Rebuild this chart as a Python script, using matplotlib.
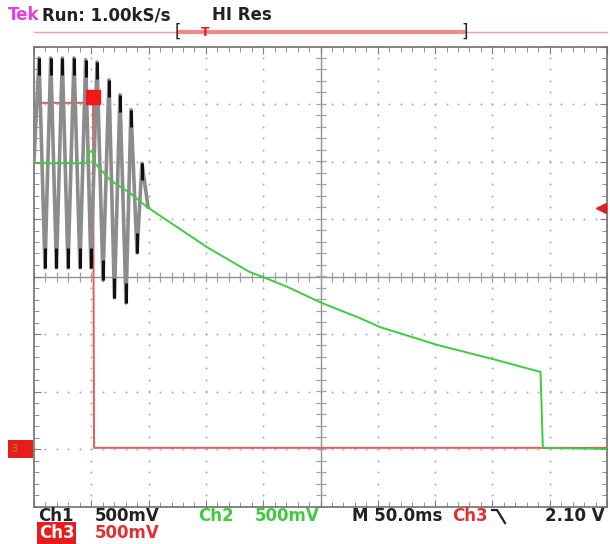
import numpy as np
import matplotlib.pyplot as plt
from matplotlib.ticker import MultipleLocator

# time in ms (50 ms/div, 10 div); vertical position in screen divisions
ch1_t = [0, 4.4, 9.6, 14.6, 19.6, 24.7, 29.7, 34.9, 40.1, 45.1, 49.7,
         55.0, 60.2, 65.4, 70.2, 75.0, 80.3, 84.6, 89.9, 94.2, 99.5]
ch1_v = [2.0, 3.80, 0.15, 3.80, 0.15, 3.80, 0.15, 3.80, 0.15, 3.77, 0.15,
         3.73, -0.06, 3.42, -0.37, 3.16, -0.46, 2.90, 0.41, 1.97, 1.21]

ch2_t = [0, 46.2, 47.1, 52.4, 53.2, 66.3, 83.8, 98.6, 151, 188, 200,
         221, 251, 284, 302, 352, 403, 442, 444, 500]
ch2_v = [1.97, 1.97, 2.17, 2.17, 1.97, 1.68, 1.45, 1.21, 0.51, 0.08, -0.01,
         -0.18, -0.46, -0.72, -0.88, -1.19, -1.45, -1.66, -2.98, -3.0]

ch3_t = [0, 51.5, 52.4, 500]
ch3_v = [3.02, 3.02, -2.98, -2.98]

ch3_ground = -3.0      # divisions
volts_per_div = 0.5
trig_level = 2.10      # V
trig_time = 51.5       # ms

W, H = 610, 544
fig = plt.figure(figsize=(W / 100, H / 100), dpi=100)
ax = fig.add_axes([34 / W, (H - 506.5) / H, (607 - 34) / W, 460 / H])
ax.set_xlim(0, 500)
ax.set_ylim(-4, 4)

# graticule
grid_c = '#b4b4b4'
for xv in np.arange(50, 500, 50):
    if xv == 250:
        continue
    yy = np.arange(-4, 4.01, 0.2)
    ax.plot(np.full_like(yy, xv), yy, ls='none', marker='o', ms=1.5,
            mfc=grid_c, mec='none', zorder=1)
for yv in np.arange(-3, 4, 1):
    if yv == 0:
        continue
    xx = np.arange(0, 500.1, 10)
    ax.plot(xx, np.full_like(xx, yv), ls='none', marker='o', ms=1.5,
            mfc=grid_c, mec='none', zorder=1)
ax.axhline(0, color='#909090', lw=1, zorder=1)
ax.axvline(250, color='#909090', lw=1, zorder=1)
xx = np.arange(0, 500.1, 10)
ax.plot(xx, np.zeros_like(xx), ls='none', marker='|', ms=7, mec='#a0a0a0', mew=0.9, zorder=1)
yy = np.arange(-4, 4.01, 0.2)
ax.plot(np.full_like(yy, 250), yy, ls='none', marker='_', ms=7, mec='#a0a0a0', mew=0.9, zorder=1)

for s in ax.spines.values():
    s.set_color('#707070')
    s.set_linewidth(1.2)
ax.xaxis.set_major_locator(MultipleLocator(50))
ax.xaxis.set_minor_locator(MultipleLocator(10))
ax.yaxis.set_major_locator(MultipleLocator(1))
ax.yaxis.set_minor_locator(MultipleLocator(0.2))
ax.tick_params(which='both', direction='in', top=True, right=True,
               labelbottom=False, labelleft=False, color='#808080')
ax.tick_params(which='major', length=5)
ax.tick_params(which='minor', length=3.5)

# Ch3 (red)
ax.plot(ch3_t, ch3_v, color='#e85a5c', lw=1.4, zorder=3)
# Ch1 (gray with dark tips)
ax.plot(ch1_t, ch1_v, color='#8c8c8c', lw=2.6, zorder=4)
v = np.array(ch1_v)
for i in range(1, len(v) - 1):
    if v[i] > v[i - 1] and v[i] > v[i + 1]:
        ax.vlines(ch1_t[i], v[i] - 0.3, v[i], color='#111111', lw=2.2, zorder=5)
    elif v[i] < v[i - 1] and v[i] < v[i + 1]:
        ax.vlines(ch1_t[i], v[i], v[i] + 0.35, color='#111111', lw=2.2, zorder=5)
# Ch2 (green)
ax.plot(ch2_t, ch2_v, color='#3fcb3f', lw=1.4, zorder=6)

# trigger point marker and trigger level arrow
ax.plot([trig_time], [ch3_v[0] + 0.1], marker='s', ms=10, color='#f01818', zorder=7)
trig_div = ch3_ground + trig_level / volts_per_div
ax.plot([0.99], [trig_div], marker='<', ms=7, color='#e01c24',
        transform=ax.get_yaxis_transform(), clip_on=False, zorder=7)

# overlay in pixel coordinates for screen decorations
ov = fig.add_axes([0, 0, 1, 1], facecolor='none')
ov.set_xlim(0, W)
ov.set_ylim(H, 0)
ov.axis('off')

ov.plot([34, 607], [32, 32], color='#f0a0a0', lw=1)
ov.plot([180, 463], [32, 32], color='#f08a8a', lw=3)
ov.text(178, 32, '[', ha='center', va='center', fontsize=12, color='#222')
ov.text(465, 32, ']', ha='center', va='center', fontsize=12, color='#222')
ov.text(205, 32, 'T', ha='center', va='center', fontsize=9, color='#e02020', fontweight='bold')

gy = 276.5 - ch3_ground * 57.5
ov.add_patch(plt.Rectangle((8, gy - 9), 25, 18, fc='#e81c1c', ec='none'))
ov.text(14, gy, '3', ha='center', va='center', fontsize=8, color='#c86010',
        fontweight='bold')

font = dict(fontsize=12, fontweight='bold', va='center', ha='left')
ov.text(8, 15, 'Tek', color='#e040e0', **font)
ov.text(42, 15, 'Run: 1.00kS/s', color='#222222', **font)
ov.text(212, 15, 'HI Res', color='#222222', **font)

ov.text(38, 516, 'Ch1', color='#222222', **font)
ov.text(95, 516, '500mV', color='#222222', **font)
ov.text(198, 516, 'Ch2', color='#3fcb3f', **font)
ov.text(255, 516, '500mV', color='#3fcb3f', **font)
ov.text(352, 516, 'M 50.0ms', color='#222222', **font)
ov.text(452, 516, 'Ch3', color='#e03030', **font)
ov.plot([492, 497, 505], [510, 510, 523], color='#222222', lw=1.6)
ov.text(545, 516, '2.10 V', color='#222222', **font)
ov.text(39, 533, 'Ch3', color='white',
        bbox=dict(boxstyle='square,pad=0.1', fc='#e81c1c', ec='none'), **font)
ov.text(95, 533, '500mV', color='#e03030', **font)

fig.savefig('out.png', dpi=100)
